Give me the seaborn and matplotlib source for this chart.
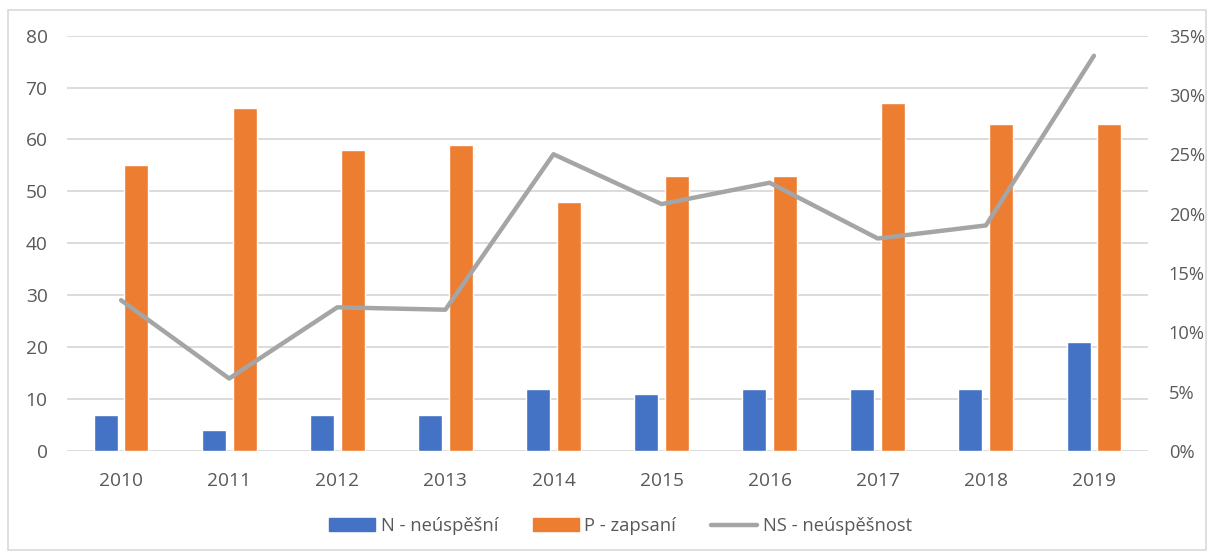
import numpy as np
import pandas as pd
import matplotlib.pyplot as plt
import matplotlib.patches as mpatches
from matplotlib.lines import Line2D
from matplotlib.ticker import PercentFormatter
import seaborn as sns

years = ["2010", "2011", "2012", "2013", "2014", "2015", "2016", "2017", "2018", "2019"]
n_neuspesni = [7, 4, 7, 7, 12, 11, 12, 12, 12, 21]
p_zapsani = [55, 66, 58, 59, 48, 53, 53, 67, 63, 63]
ns_neuspesnost = [12.7, 6.1, 12.1, 11.9, 25.0, 20.8, 22.6, 17.9, 19.0, 33.3]

lab_n = "N - neúspěšní"
lab_p = "P - zapsaní"
lab_ns = "NS - neúspěšnost"

blue = "#4472C4"
orange = "#ED7D31"
grey = "#A5A5A5"
txt = "#595959"

dat = pd.DataFrame({"rok": years, lab_n: n_neuspesni, lab_p: p_zapsani})
dat = dat.melt(id_vars="rok", var_name="serie", value_name="hodnota")

sns.set_style("white")
plt.rcParams["font.family"] = ["Open Sans", "DejaVu Sans"]

fig = plt.figure(figsize=(12.12, 5.56), dpi=100)
ax = fig.add_axes([0.0553, 0.189, 0.8919, 0.747])

sns.barplot(data=dat, x="rok", y="hodnota", hue="serie",
            palette=[blue, orange], width=0.57, gap=0.22, ax=ax, legend=False,
            saturation=1)
ax.set_ylim(0, 80)
ax.set_yticks(range(0, 81, 10))
ax.set_xlim(-0.5, 9.5)
ax.set_xlabel("")
ax.set_ylabel("")
ax.grid(axis="y", color="#D9D9D9", linewidth=1.3)
ax.set_axisbelow(True)
for s in ax.spines.values():
    s.set_visible(False)
ax.tick_params(axis="both", length=0, labelsize=13.8, labelcolor=txt)
ax.tick_params(axis="x", pad=15)
ax.tick_params(axis="y", pad=14)

ax2 = ax.twinx()
sns.lineplot(x=np.arange(len(years)), y=ns_neuspesnost, color=grey,
             linewidth=3.2, ax=ax2, solid_capstyle="round")
ax2.set_ylim(0, 35)
ax2.set_yticks(range(0, 36, 5))
ax2.yaxis.set_major_formatter(PercentFormatter(decimals=0))
ax2.tick_params(axis="y", length=0, labelsize=13.2, labelcolor=txt, pad=15)
for s in ax2.spines.values():
    s.set_visible(False)
ax2.set_xlim(-0.5, 9.5)

handles = [mpatches.Patch(color=blue, label=lab_n),
           mpatches.Patch(color=orange, label=lab_p),
           Line2D([0], [0], color=grey, linewidth=3.2, label=lab_ns)]
fig.legend(handles=handles, loc="center", bbox_to_anchor=(0.512, 0.054), ncol=3,
           frameon=False, fontsize=13.2, labelcolor=txt, handlelength=2.5,
           handleheight=0.7, handletextpad=0.3, columnspacing=1.9)

fig.patches.append(mpatches.Rectangle((0.007, 0.01), 0.988, 0.972, transform=fig.transFigure,
                                      fill=False, edgecolor="#D9D9D9", linewidth=1.2))

fig.savefig("out.png", dpi=100)
